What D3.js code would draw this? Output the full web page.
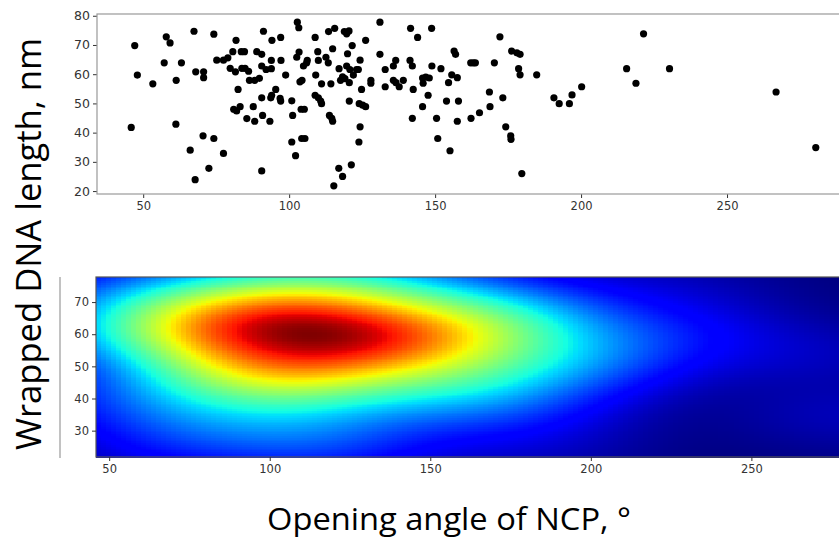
<!DOCTYPE html>
<html>
<head>
<meta charset="utf-8">
<script src="https://cdn.jsdelivr.net/npm/d3@7"></script>
<style>
  body { margin: 0; background: #fff; }
  svg { display: block; }
</style>
</head>
<body>
<svg id="chart" width="839" height="538"></svg>
<script>
// opening angle of NCP (deg) and wrapped DNA length (nm), one entry per nucleosome
const openingAngle = [
    45.9, 47.1, 48.0, 53.3, 57.2, 57.9, 59.2, 61.3, 61.2, 63.1, 66.1, 67.4, 67.8, 68.0, 70.5, 70.7,
    70.7, 72.5, 74.2, 74.2, 75.2, 77.5, 77.5, 79.0, 80.7, 81.8, 79.8, 81.6, 83.6, 84.7, 82.5, 83.8,
    84.9, 81.0, 82.0, 83.2, 85.5, 86.4, 86.1,
    91.2, 94.1, 97.1, 88.9, 90.6, 90.6, 92.1, 93.9, 93.9, 97.2, 88.2, 89.8, 98.8, 95.4, 94.0, 93.7,
    90.6, 96.9, 97.1, 87.7, 88.2, 90.9, 93.4, 90.6, 100.9, 101.2, 100.9, 102.2, 102.8, 103.3, 102.6, 103.4,
    103.7, 104.4, 104.1, 105.2, 104.3, 105.4, 104.9, 106.0, 106.2, 108.9, 109.1, 109.8, 110.0, 108.9, 110.0, 110.8,
    111.1, 111.1, 112.6, 113.4, 113.5, 115.6, 114.9, 113.8, 114.6, 114.9, 114.3, 115.3, 117.0, 118.3, 117.1, 117.6,
    118.3, 119.1, 118.9, 119.7, 120.5, 120.0, 119.7, 120.8, 120.6, 120.6, 121.3, 121.6, 122.0, 123.1, 123.7, 124.3,
    124.0, 125.2, 126.2, 124.3, 123.9, 124.8, 126.2, 128.0, 128.0, 131.1, 131.1, 132.9, 132.9, 135.7, 136.5, 135.7,
    136.6, 137.7, 139.1, 141.6, 144.0, 141.4, 142.2, 142.5, 142.2, 145.7, 146.8, 148.0, 145.9, 147.6, 145.7, 148.8,
    148.9, 152.0, 150.5, 150.9, 154.6, 153.9, 155.1,
    155.7, 157.6, 156.5, 157.0, 158.0, 157.6, 162.2, 163.1, 163.8, 162.3, 165.2, 168.6, 168.8, 170.3, 172.2, 173.2,
    174.2, 175.9, 176.0, 176.2, 178.0, 179.1, 178.6, 179.1, 179.7, 184.8, 190.7, 192.5, 196.0, 196.9, 200.2, 215.6,
    218.8, 221.4, 230.3, 266.8, 280.4
];
const wrappedLength = [
    41.8, 69.8, 59.7, 56.7, 63.9, 72.8, 70.7, 57.9, 42.9, 63.9, 34.0, 74.7, 23.9, 60.8, 38.9, 60.8,
    58.8, 27.8, 73.7, 38.0, 64.8, 32.9, 64.8, 65.6, 67.7, 71.6, 62.0, 60.8, 67.7, 67.7, 54.8, 62.0,
    62.0, 48.0, 47.4, 48.9, 44.8, 57.9, 61.0,
    74.7, 71.6, 72.6, 67.7, 66.8, 62.8, 61.6, 61.9, 64.7, 64.7, 57.9, 58.6, 59.7, 54.8, 52.8, 51.9,
    51.9, 51.7, 50.8, 48.9, 43.9, 45.9, 43.9, 26.9, 50.9, 45.9, 36.8, 32.1, 77.8, 75.9, 65.8, 67.6,
    57.4, 57.9, 48.0, 48.0, 38.0, 38.0, 62.8, 63.9, 64.7, 72.6, 59.7, 67.7, 64.7, 52.8, 51.9, 50.8,
    49.9, 56.7, 65.8, 63.9, 74.6, 75.7, 68.7, 45.9, 44.9, 43.9, 56.7, 21.8, 27.8, 25.0, 61.9, 57.9,
    59.1, 58.5, 74.6, 73.8, 74.8, 67.0, 62.8, 61.6, 57.1, 50.8, 29.0, 69.8, 59.7, 61.6, 61.6, 64.8,
    49.9, 49.4, 48.9, 42.0, 36.8, 54.8, 71.6, 57.9, 56.9, 77.8, 66.8, 61.6, 55.7, 62.8, 64.7, 57.9,
    57.1, 55.7, 57.9, 75.7, 72.6, 64.7, 62.8, 54.8, 44.9, 58.7, 59.0, 58.7, 56.9, 52.8, 48.9, 75.7,
    62.8, 61.9, 44.9, 38.0, 57.1, 50.8, 33.8,
    59.8, 58.8, 67.9, 66.8, 50.8, 43.9, 63.9, 63.9, 63.9, 44.9, 46.8, 53.9, 48.9, 63.9, 72.8, 51.9,
    42.0, 38.9, 37.7, 67.9, 67.3, 66.8, 61.9, 59.8, 26.0, 59.8, 51.9, 49.9, 49.9, 52.9, 55.7, 61.9,
    56.9, 73.8, 61.9, 53.9, 34.9
];

const xTicks = [50, 100, 150, 200, 250];
const yTicksScatter = [20, 30, 40, 50, 60, 70, 80];
const yTicksDensity = [30, 40, 50, 60, 70];
const xTitle = "Opening angle of NCP, \u00b0";
const yTitle = "Wrapped DNA length, nm";

const svg = d3.select("#chart");
const points = openingAngle.map((a, i) => ({a: a, l: wrappedLength[i]}));
const xExt = d3.extent(openingAngle);
const yExt = d3.extent(wrappedLength);
const padded = (e, f) => [e[0] - (e[1] - e[0]) * f, e[1] + (e[1] - e[0]) * f];

function styleAxis(g, size) {
    g.select(".domain").remove();
    g.selectAll(".tick line").attr("stroke", "#333");
    g.selectAll(".tick text")
        .attr("fill", "#333")
        .style("font-family", "DejaVu Sans, sans-serif")
        .style("font-size", size + "px");
}

// ---------- top panel: scatter ----------
let x1 = d3.scaleLinear().domain(padded(xExt, 0.05)).range([97, 850]);
let y1 = d3.scaleLinear().domain(padded(yExt, 0.05)).range([194, 14]);

svg.append("g")
    .attr("transform", "translate(0,194)")
    .call(d3.axisBottom(x1).tickValues(xTicks).tickSize(4).tickPadding(4))
    .call(g => styleAxis(g, 11.5));

svg.append("g")
    .attr("transform", "translate(97,0)")
    .call(d3.axisLeft(y1).tickValues(yTicksScatter).tickSize(4).tickPadding(3))
    .call(g => styleAxis(g, 12.5));

svg.append("rect")
    .attr("x", 97).attr("y", 14)
    .attr("width", 850 - 97).attr("height", 194 - 14)
    .attr("fill", "none")
    .attr("stroke", "#999")
    .attr("stroke-width", 1.2);

svg.append("g")
    .selectAll("circle")
    .data(points)
    .enter()
    .append("circle")
    .attr("cx", d => x1(d.a))
    .attr("cy", d => y1(d.l))
    .attr("r", 3.6)
    .attr("fill", "#000");

// ---------- bottom panel: gaussian kde ----------
// scott's factor, widened a bit to get the broad halo of the original
let n = points.length;
let bwScale = 1.4;
let mx = d3.mean(openingAngle), my = d3.mean(wrappedLength);
let sxx = 0, syy = 0, sxy = 0;
points.forEach(p => {
    let dx = p.a - mx, dy = p.l - my;
    sxx += dx * dx; syy += dy * dy; sxy += dx * dy;
});
sxx /= (n - 1); syy /= (n - 1); sxy /= (n - 1);
let f2 = Math.pow(n, -1 / 3) * bwScale * bwScale;
let cxx = sxx * f2, cyy = syy * f2, cxy = sxy * f2;
let det = cxx * cyy - cxy * cxy;
let ixx = cyy / det, iyy = cxx / det, ixy = -cxy / det;

const NX = 150, NY = 100;
let gx = d3.range(NX).map(i => xExt[0] + (xExt[1] - xExt[0]) * i / (NX - 1));
let gy = d3.range(NY).map(j => yExt[0] + (yExt[1] - yExt[0]) * j / (NY - 1));
let cells = [];
for (let j = 0; j < NY; j++) {
    for (let i = 0; i < NX; i++) {
        let z = 0;
        for (let k = 0; k < n; k++) {
            let dx = gx[i] - points[k].a, dy = gy[j] - points[k].l;
            z += Math.exp(-0.5 * (ixx * dx * dx + 2 * ixy * dx * dy + iyy * dy * dy));
        }
        cells.push({i: i, j: j, z: z});
    }
}

let x2 = d3.scaleLinear().domain(xExt).range([96, 849]);
let y2 = d3.scaleLinear().domain(yExt).range([457, 277]);
let cw = (xExt[1] - xExt[0]) / NX, ch = (yExt[1] - yExt[0]) / NY;

// matplotlib "jet"
const jetR = d3.scaleLinear().domain([0, 0.35, 0.66, 0.89, 1]).range([0, 0, 1, 1, 0.5]).clamp(true);
const jetG = d3.scaleLinear().domain([0, 0.125, 0.375, 0.64, 0.91, 1]).range([0, 0, 1, 1, 0, 0]).clamp(true);
const jetB = d3.scaleLinear().domain([0, 0.11, 0.34, 0.65, 1]).range([0.5, 1, 1, 0, 0]).clamp(true);
const jet = t => d3.rgb(255 * jetR(t), 255 * jetG(t), 255 * jetB(t)).formatHex();
let zExt = d3.extent(cells, d => d.z);
let norm = d3.scalePow().exponent(0.75).domain([0, zExt[1] - zExt[0]]).range([0, 1]).clamp(true);
let color = z => jet(norm(z - zExt[0]));

svg.append("g")
    .attr("shape-rendering", "crispEdges")
    .selectAll("rect")
    .data(cells)
    .enter()
    .append("rect")
    .attr("x", d => x2(xExt[0] + d.i * cw))
    .attr("y", d => y2(yExt[0] + (d.j + 1) * ch))
    .attr("width", x2(xExt[0] + cw) - x2(xExt[0]) + 0.6)
    .attr("height", y2(yExt[0]) - y2(yExt[0] + ch) + 0.6)
    .attr("fill", d => color(d.z));

svg.append("rect")
    .attr("x", 96).attr("y", 277)
    .attr("width", 849 - 96).attr("height", 457 - 277)
    .attr("fill", "none")
    .attr("stroke", "#555")
    .attr("stroke-width", 1.2);

svg.append("g")
    .attr("transform", "translate(0,457)")
    .call(d3.axisBottom(x2).tickValues(xTicks).tickSize(4).tickPadding(4))
    .call(g => styleAxis(g, 11.5));

svg.append("g")
    .attr("transform", "translate(96,0)")
    .call(d3.axisLeft(y2).tickValues(yTicksDensity).tickSize(4).tickPadding(3))
    .call(g => styleAxis(g, 11.5));

// thin grey rule left of the lower panel
svg.append("line")
    .attr("x1", 60).attr("x2", 60)
    .attr("y1", 277).attr("y2", 458)
    .attr("stroke", "#999")
    .attr("stroke-width", 1.2);

// ---------- titles ----------
svg.append("text")
    .attr("x", 267)
    .attr("y", 530)
    .attr("textLength", 364)
    .attr("lengthAdjust", "spacingAndGlyphs")
    .style("font-family", "Open Sans, sans-serif")
    .style("font-size", "31px")
    .attr("fill", "#000")
    .text(xTitle);

svg.append("text")
    .attr("transform", "translate(41,450)rotate(-90)")
    .attr("textLength", 412)
    .attr("lengthAdjust", "spacingAndGlyphs")
    .style("font-family", "Open Sans, sans-serif")
    .style("font-size", "34px")
    .attr("fill", "#000")
    .text(yTitle);
</script>
</body>
</html>
